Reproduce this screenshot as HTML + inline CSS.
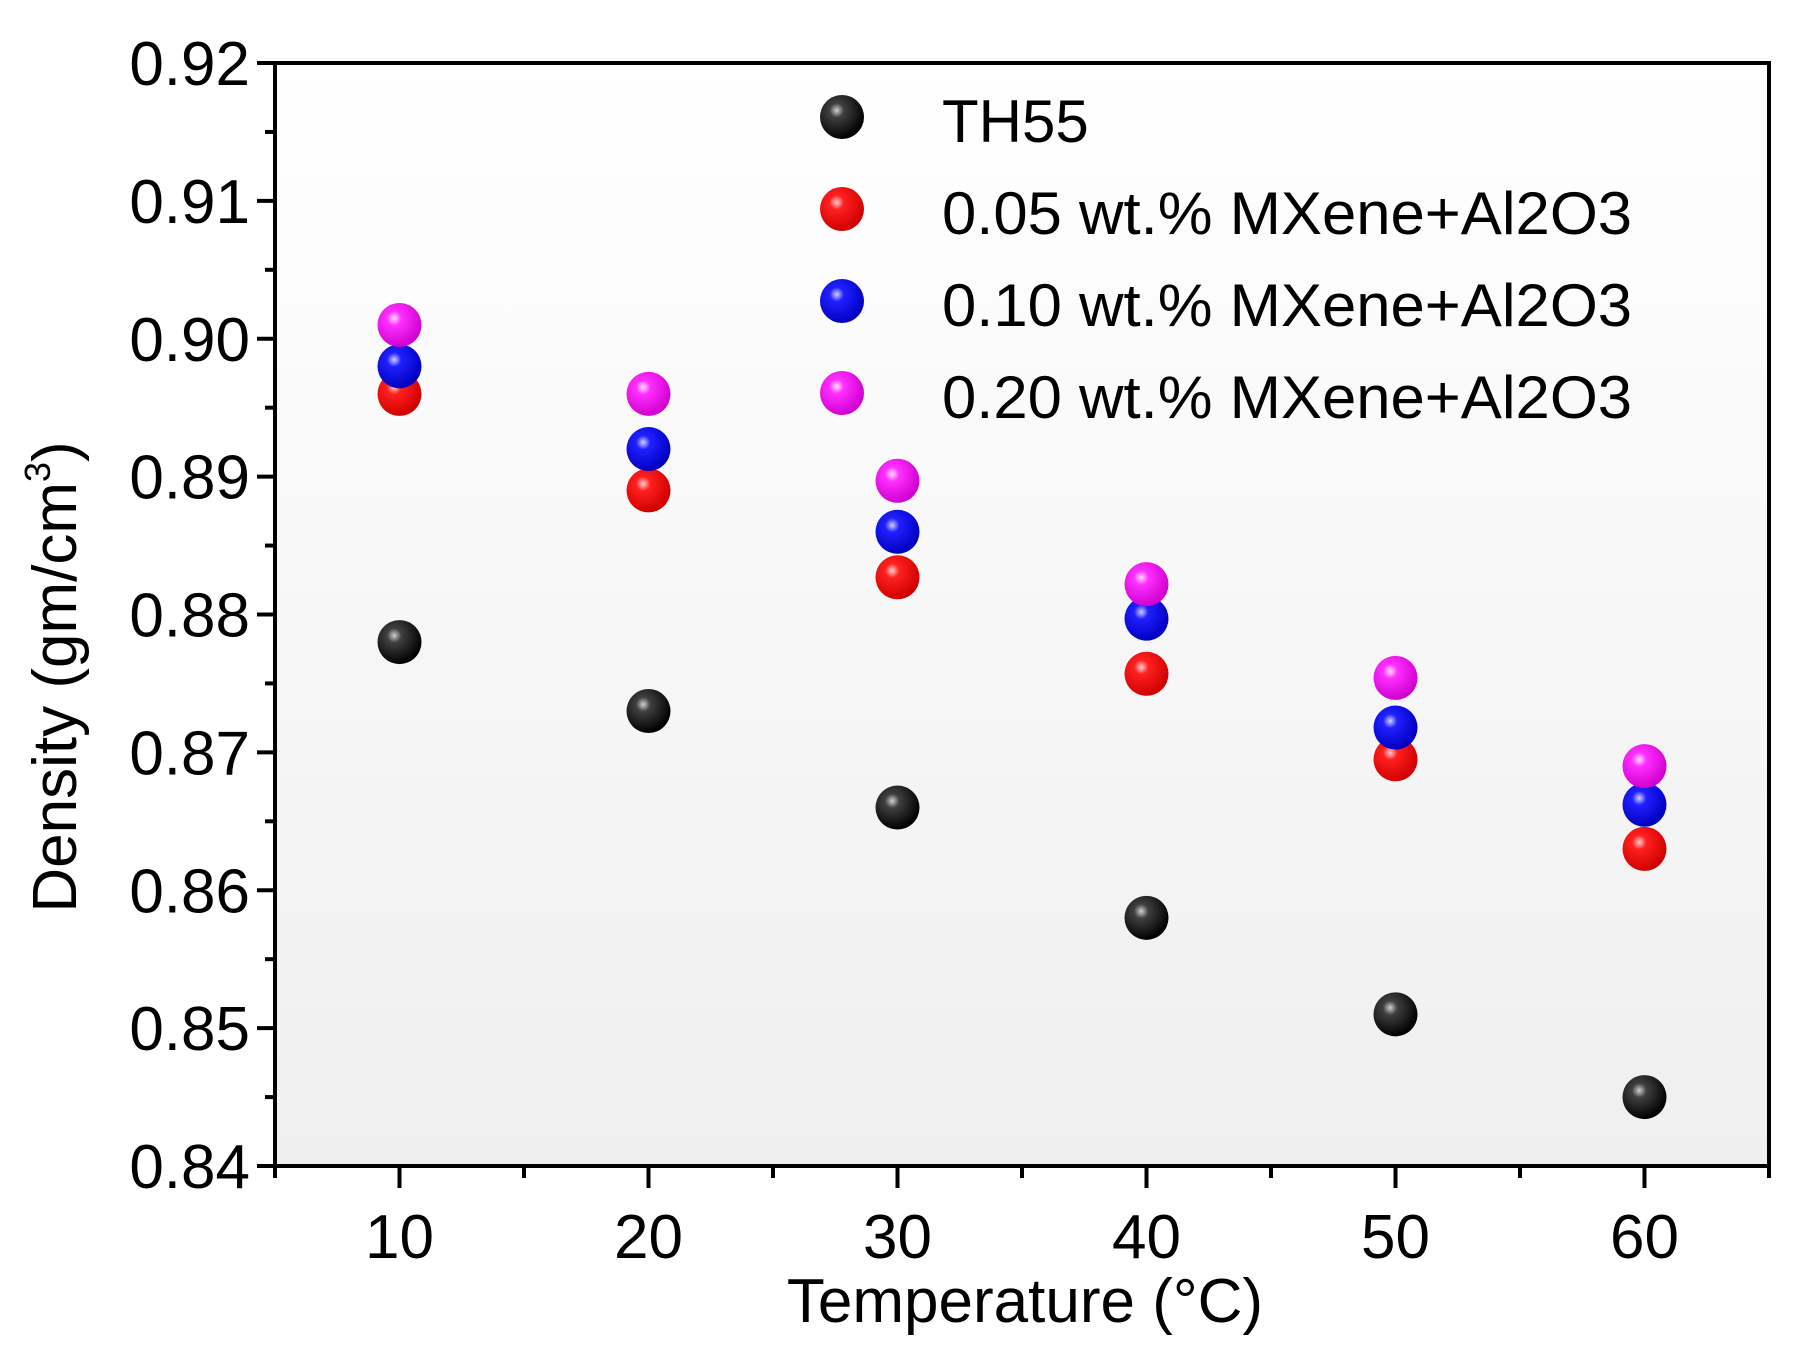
<!DOCTYPE html>
<html><head><meta charset="utf-8"><style>
html,body{margin:0;padding:0;background:#fff;}
svg{display:block;}
text{font-family:"Liberation Sans",sans-serif;fill:#000;}
</style></head><body>
<svg id="s" width="1795" height="1345" viewBox="0 0 1795 1345" xmlns="http://www.w3.org/2000/svg">
<defs>
<linearGradient id="bg" x1="0" y1="0" x2="0" y2="1"><stop offset="0" stop-color="#ffffff"/><stop offset="1" stop-color="#efefef"/></linearGradient>
<radialGradient id="gk" cx="0.38" cy="0.35" r="0.65"><stop offset="0" stop-color="#d0d0d0"/><stop offset="0.25" stop-color="#404040"/><stop offset="1" stop-color="#000"/></radialGradient>
<radialGradient id="gr" cx="0.38" cy="0.35" r="0.65"><stop offset="0" stop-color="#ffd0d0"/><stop offset="0.25" stop-color="#ff2020"/><stop offset="1" stop-color="#d00000"/></radialGradient>
<radialGradient id="gb" cx="0.38" cy="0.35" r="0.65"><stop offset="0" stop-color="#d0d0ff"/><stop offset="0.25" stop-color="#2020ff"/><stop offset="1" stop-color="#0000c0"/></radialGradient>
<radialGradient id="gm" cx="0.38" cy="0.35" r="0.65"><stop offset="0" stop-color="#ffe0ff"/><stop offset="0.25" stop-color="#ff30ff"/><stop offset="1" stop-color="#d000d0"/></radialGradient>
</defs>
<rect x="275" y="63" width="1494" height="1103" fill="url(#bg)"/>
<g id="g"></g>
<rect x="275" y="63" width="1494" height="1103" fill="none" stroke="#000" stroke-width="4"/>
<text x="1025" y="1322" font-size="62" text-anchor="middle">Temperature (°C)</text>
<text transform="translate(76,677) rotate(-90)" font-size="62" text-anchor="middle">Density (gm/cm<tspan font-size="36" dy="-26">3</tspan><tspan dy="26">)</tspan></text>
<text x="942" y="142" font-size="60">TH55</text>
<text x="942" y="234" font-size="60" textLength="690" lengthAdjust="spacingAndGlyphs">0.05 wt.% MXene+Al2O3</text>
<text x="942" y="326" font-size="60" textLength="690" lengthAdjust="spacingAndGlyphs">0.10 wt.% MXene+Al2O3</text>
<text x="942" y="418" font-size="60" textLength="690" lengthAdjust="spacingAndGlyphs">0.20 wt.% MXene+Al2O3</text>
</svg>
<script>
var g=document.getElementById('g'),h='';
function X(t){return 275+(t-5)*24.9;}
function Y(v){return 1166-(v-0.84)*13787.5;}
for(var i=0;i<=16;i++){var v=0.84+i*0.005,y=Y(v),L=i%2==0?18:10;
h+='<line x1="'+(275-L)+'" y1="'+y+'" x2="275" y2="'+y+'" stroke="#000" stroke-width="4"/>';
if(i%2==0)h+='<text x="250" y="'+(y+22)+'" font-size="62" text-anchor="end">'+v.toFixed(2)+'</text>';}
for(var t=5;t<=65;t+=5){var x=X(t),L=(t%10==0)?22:12;
h+='<line x1="'+x+'" y1="1166" x2="'+x+'" y2="'+(1166+L)+'" stroke="#000" stroke-width="4"/>';
if(t%10==0&&t>5&&t<65)h+='<text x="'+x+'" y="1258" font-size="62" text-anchor="middle">'+t+'</text>';}
var D=[['gk',[.878,.873,.866,.858,.851,.845]],['gr',[.896,.889,.8827,.8757,.8695,.863]],['gb',[.898,.892,.886,.8797,.8718,.8662]],['gm',[.901,.896,.8897,.8822,.8754,.869]]];
D.forEach(function(d,k){d[1].forEach(function(v,j){h+='<circle cx="'+X(10+10*j)+'" cy="'+Y(v)+'" r="22" fill="url(#'+d[0]+')"/>';});
h+='<circle cx="842" cy="'+(117+92*k)+'" r="22" fill="url(#'+d[0]+')"/>';});
g.innerHTML=h;
</script>
</body></html>
